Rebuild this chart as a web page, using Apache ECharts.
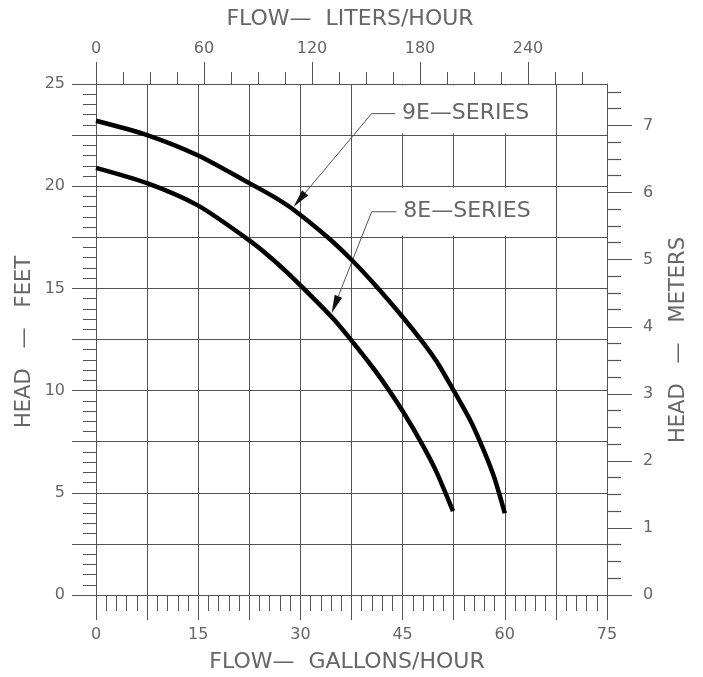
<!DOCTYPE html>
<html><head><meta charset="utf-8">
<script src="https://cdn.jsdelivr.net/npm/echarts@6/dist/echarts.min.js"></script>
<style>html,body{margin:0;padding:0;background:#fff}#c{width:703px;height:677px}</style>
</head><body><div id="c"></div>
<script>
// ---- data (flow in gallons/hour, head in feet) ----
const flow9E = [0, 7.5, 15, 22.5, 26, 29, 34, 37.5, 41, 45, 48, 50, 52.5, 55, 57, 58.5, 60];
const head9E = [23.2, 22.5, 21.5, 20.15, 19.5, 18.85, 17.5, 16.4, 15.15, 13.6, 12.35, 11.42, 10.0, 8.5, 7.0, 5.7, 4.0];
const flow8E = [0, 7.5, 15, 22.5, 26, 30, 35, 40, 42, 45, 48, 50, 52.4];
const head8E = [20.9, 20.15, 19.05, 17.35, 16.4, 15.15, 13.45, 11.4, 10.5, 9.0, 7.3, 6.0, 4.1];

const gphTickLabels = [0, 15, 30, 45, 60, 75];
const lphTickLabels = [0, 60, 120, 180, 240];
const lphMinorTicks = [15, 30, 45, 75, 90, 105, 135, 150, 165, 195, 210, 225, 255, 270];
const feetTickLabels = [0, 5, 10, 15, 20, 25];
const meterTickLabels = [0, 1, 2, 3, 4, 5, 6, 7];
const meterMinorTicks = [0.25, 0.5, 0.75, 1.25, 1.5, 1.75, 2.25, 2.5, 2.75, 3.25, 3.5, 3.75,
  4.25, 4.5, 4.75, 5.25, 5.5, 5.75, 6.25, 6.5, 6.75, 7.25, 7.5];

const GPH_MAX = 75, FT_MAX = 25;
const GAL_TO_L = 3.78541, FT_TO_M = 0.3048;

// annotation anchors in data coordinates (gph, feet)
const annotations = [
  { label: '9E—SERIES', text: [44.9, 23.55], elbow: [40.45, 23.55], legEnd: [43.9, 23.55], tip: [29, 19.0], box: [39.2, 66.8, 22.5, 25] },
  { label: '8E—SERIES', text: [45.1, 18.75], elbow: [40.45, 18.75], legEnd: [44.1, 18.75], tip: [34.6, 13.8], box: [39.2, 66.8, 17.5, 20] }
];

const zip = (xs, ys) => xs.map((x, i) => [x, ys[i]]);

const FONT = '"DejaVu Sans", "Liberation Sans", sans-serif';
const TXT = '#666';
const LINE = '#555';
const labelStyle = { color: TXT, fontSize: 16, fontFamily: FONT };
const crisp = v => Math.round(v - 0.5) + 0.5;

const chart = echarts.init(document.getElementById('c'), null, { renderer: 'canvas' });

chart.setOption({
  animation: false,
  backgroundColor: '#fff',
  grid: { left: 96, top: 84, width: 511, height: 511, containLabel: false },
  xAxis: [
    { // bottom: gallons/hour
      type: 'value', position: 'bottom', min: 0, max: GPH_MAX, interval: 7.5,
      axisLine: { show: true, onZero: false, lineStyle: { color: LINE, width: 1 } },
      axisTick: { show: true, inside: false, length: 25, lineStyle: { color: LINE, width: 1 } },
      minorTick: { show: true, splitNumber: 5, length: 16, lineStyle: { color: LINE, width: 1 } },
      splitLine: { show: true, lineStyle: { color: LINE, width: 1 } },
      axisLabel: Object.assign({ margin: 32, formatter: v => gphTickLabels.includes(v) ? String(v) : '' }, labelStyle)
    },
    { // top: liters/hour major
      type: 'value', position: 'top', min: 0, max: GPH_MAX * GAL_TO_L,
      axisLine: { show: true, onZero: false, lineStyle: { color: LINE, width: 1 } },
      axisTick: { show: true, length: 22, customValues: lphTickLabels, lineStyle: { color: LINE, width: 1 } },
      splitLine: { show: false },
      axisLabel: Object.assign({ margin: 27, customValues: lphTickLabels }, labelStyle)
    },
    { // top: liters/hour minor
      type: 'value', position: 'top', min: 0, max: GPH_MAX * GAL_TO_L,
      axisLine: { show: false, onZero: false },
      axisTick: { show: true, length: 12, customValues: lphMinorTicks, lineStyle: { color: LINE, width: 1 } },
      splitLine: { show: false },
      axisLabel: { show: false }
    }
  ],
  yAxis: [
    { // left: feet (labels drawn by the decoration series)
      type: 'value', position: 'left', min: 0, max: FT_MAX, interval: 2.5,
      axisLine: { show: true, onZero: false, lineStyle: { color: LINE, width: 1 } },
      axisTick: { show: true, length: 24, lineStyle: { color: LINE, width: 1 } },
      minorTick: { show: true, splitNumber: 5, length: 13, lineStyle: { color: LINE, width: 1 } },
      splitLine: { show: true, lineStyle: { color: LINE, width: 1 } },
      axisLabel: { show: false }
    },
    { // right: meters major
      type: 'value', position: 'right', min: 0, max: FT_MAX * FT_TO_M,
      axisLine: { show: true, onZero: false, lineStyle: { color: LINE, width: 1 } },
      axisTick: { show: true, length: 25, customValues: meterTickLabels, lineStyle: { color: LINE, width: 1 } },
      splitLine: { show: false },
      axisLabel: Object.assign({ margin: 36, customValues: meterTickLabels }, labelStyle)
    }
  ],
  graphic: [
    { type: 'text', x: 350, y: 19, style: { text: 'FLOW—  LITERS/HOUR', font: '22px ' + FONT, fill: TXT, align: 'center', verticalAlign: 'middle' } },
    { type: 'text', x: 347, y: 662, style: { text: 'FLOW—  GALLONS/HOUR', font: '22px ' + FONT, fill: TXT, align: 'center', verticalAlign: 'middle' } },
    { type: 'text', x: 25, y: 342, rotation: Math.PI / 2, style: { text: 'HEAD   —   FEET', font: '21px ' + FONT, fill: TXT, align: 'center', verticalAlign: 'middle' } },
    { type: 'text', x: 679, y: 340, rotation: Math.PI / 2, style: { text: 'HEAD   —   METERS', font: '21px ' + FONT, fill: TXT, align: 'center', verticalAlign: 'middle' } }
  ],
  series: [
    { // axis decorations: feet labels and metre minor ticks, placed through the feet scale
      type: 'custom', xAxisIndex: 0, yAxisIndex: 0, z: 5, silent: true, clip: false,
      data: [[0]],
      renderItem: function (params, api) {
        const children = [];
        feetTickLabels.forEach(v => {
          const p = api.coord([0, v]);
          children.push({ type: 'text', style: { text: String(v), x: p[0] - 31, y: p[1], fill: TXT, font: '16px ' + FONT, align: 'right', verticalAlign: 'middle' } });
        });
        meterMinorTicks.forEach(m => {
          const p = api.coord([GPH_MAX, m / FT_TO_M]);
          const y = crisp(p[1]);
          children.push({ type: 'line', shape: { x1: p[0], y1: y, x2: p[0] + 14, y2: y }, style: { stroke: LINE, lineWidth: 1.2 } });
        });
        return { type: 'group', children: children };
      }
    },
    {
      type: 'custom', xAxisIndex: 0, yAxisIndex: 0, z: 3, silent: true, clip: false,
      data: annotations.map((a, i) => [i]),
      renderItem: function (params, api) {
        const a = annotations[params.dataIndex];
        const b1 = api.coord([a.box[0], a.box[3]]);
        const b2 = api.coord([a.box[1], a.box[2]]);
        const elbow = api.coord(a.elbow);
        const legEnd = api.coord(a.legEnd);
        const tip = api.coord(a.tip);
        const txt = api.coord(a.text);
        let dx = elbow[0] - tip[0], dy = elbow[1] - tip[1];
        const len = Math.hypot(dx, dy); dx /= len; dy /= len;
        const L = 18, W = 4;
        const bx = tip[0] + dx * L, by = tip[1] + dy * L;
        return {
          type: 'group', children: [
            { type: 'rect', shape: { x: b1[0] + 1.5, y: b1[1] + 1.5, width: b2[0] - b1[0] - 3, height: b2[1] - b1[1] - 3 }, style: { fill: '#fff' } },
            { type: 'polyline', shape: { points: [legEnd, elbow, [bx, by]] }, style: { stroke: LINE, lineWidth: 1, fill: null } },
            { type: 'polygon', shape: { points: [tip, [bx - dy * W, by + dx * W], [bx + dy * W, by - dx * W]] }, style: { fill: '#111' } },
            { type: 'text', style: { text: a.label, x: txt[0], y: txt[1], fill: TXT, font: '22px ' + FONT, align: 'left', verticalAlign: 'middle' } }
          ]
        };
      }
    },
    {
      name: '9E-SERIES', type: 'line', xAxisIndex: 0, yAxisIndex: 0, z: 4,
      data: zip(flow9E, head9E), smooth: 0.25, showSymbol: false, symbol: 'none',
      lineStyle: { color: '#000', width: 4.5 }
    },
    {
      name: '8E-SERIES', type: 'line', xAxisIndex: 0, yAxisIndex: 0, z: 4,
      data: zip(flow8E, head8E), smooth: 0.25, showSymbol: false, symbol: 'none',
      lineStyle: { color: '#000', width: 4.5 }
    }
  ]
});
</script>
</body></html>
